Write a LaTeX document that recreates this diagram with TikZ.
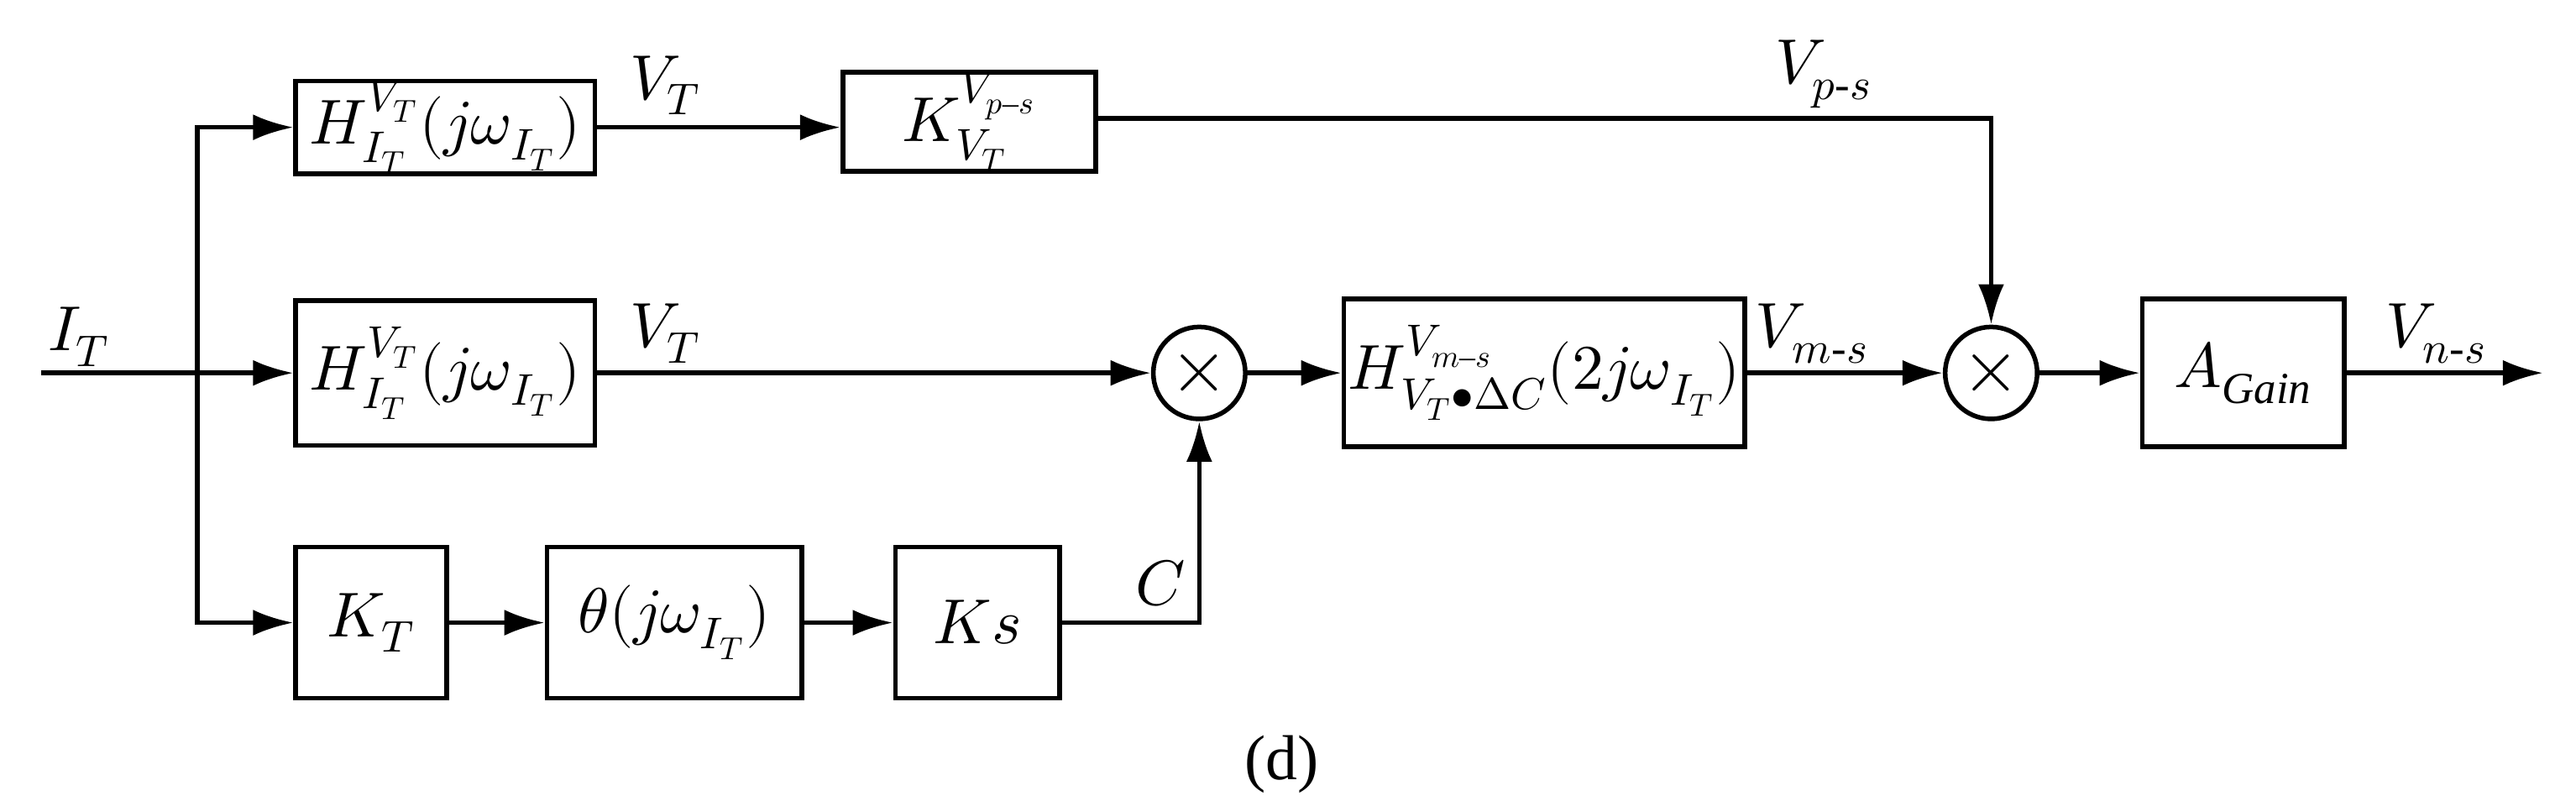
\documentclass[tikz,border=0pt]{standalone}
\usepackage{fontspec}
\setmainfont{Liberation Serif}
\usepackage{unicode-math}
\setmathfont{Latin Modern Math}
\usetikzlibrary{arrows.meta}
\begin{document}
\begin{tikzpicture}[x=0.02cm,y=-0.02cm,line width=1.6pt,
  blk/.style={draw,rectangle,inner sep=0pt,font=\fontsize{22}{24}\selectfont},
  mul/.style={draw,circle,minimum size=56*0.02cm,inner sep=0pt,font=\fontsize{26}{28}\selectfont},
  lab/.style={font=\fontsize{22}{24}\selectfont},
  ar/.style={-{Latex[length=14pt,width=9pt]}}]
\useasboundingbox (0,0) rectangle (1568,484);
\newcommand{\bx}[5]{\node[blk,minimum width={(#3-#2)*0.02cm},minimum height={30*0.02cm},text height=0pt] (#1) at ({(#2+#3)/2},#4) {#5};}
\node[blk,minimum width=182*0.02cm,minimum height=55*0.02cm] (h1) at (271,77.5) {$H_{I_T}^{V_T}(j\omega_{I_T})$};
\node[blk,minimum width=154*0.02cm,minimum height=58*0.02cm] (k) at (590,74) {$K_{V_T}^{V_{p\text{–}s}}$};
\node[blk,minimum width=182*0.02cm,minimum height=88*0.02cm] (h2) at (271,227) {$H_{I_T}^{V_T}(j\omega_{I_T})$};
\node[mul] (m1) at (730,227) {$\times$};
\node[blk,minimum width=244*0.02cm,minimum height=90*0.02cm] (h3) at (940,227) {$H_{V_T\bullet\Delta C}^{V_{m\text{–}s}}(2j\omega_{I_T})$};
\node[mul] (m2) at (1212,227) {$\times$};
\node[blk,minimum width=123*0.02cm,minimum height=90*0.02cm] (ag) at (1365.5,227) {$A_{\mathit{Gain}}$};
\node[blk,minimum width=92*0.02cm,minimum height=92*0.02cm] (kt) at (226,379) {$K_T$};
\node[blk,minimum width=155*0.02cm,minimum height=92*0.02cm] (th) at (410.5,379) {$\theta(j\omega_{I_T})$};
\node[blk,minimum width=100*0.02cm,minimum height=92*0.02cm] (ks) at (595,379) {$Ks$};
\coordinate (in) at (25,227);
\coordinate (br) at (120,227);
\coordinate (out) at (1548,227);
\coordinate (c1) at (1212,72);
\coordinate (c2) at (730,379);
\draw (in) -- (br);
\draw[ar] (br) |- (h1.west);
\draw[ar] (br) -- (h2.west);
\draw[ar] (br) |- (kt.west);
\draw[ar] (h1.east) -- (h1.east -| k.west);
\draw[ar] (k.east |- c1) -- (c1) -- (m2.north);
\draw[ar] (h2.east) -- (m1.west);
\draw[ar] (m1.east) -- (h3.west);
\draw[ar] (h3.east) -- (m2.west);
\draw[ar] (m2.east) -- (ag.west);
\draw[ar] (ag.east) -- (out);
\draw[ar] (kt.east) -- (th.west);
\draw[ar] (th.east) -- (ks.west);
\draw[ar] (ks.east) -- (c2) -- (m1.south);
\node[lab] (l1) at (48,205) {$I_T$};
\node[lab] (l2) at (405,52) {$V_T$};
\node[lab] (l3) at (405,203) {$V_T$};
\node[lab] (l4) at (1110,45) {$V_{p\text{-}s}$};
\node[lab] (l5) at (1103,203) {$V_{m\text{-}s}$};
\node[lab] (l6) at (1483,203) {$V_{n\text{-}s}$};
\node[lab] (l7) at (688,355) {$\mathit{\Delta}\,C$};
\node[lab] (l8) at (780,465) {(d)};
\end{tikzpicture}
\end{document}
